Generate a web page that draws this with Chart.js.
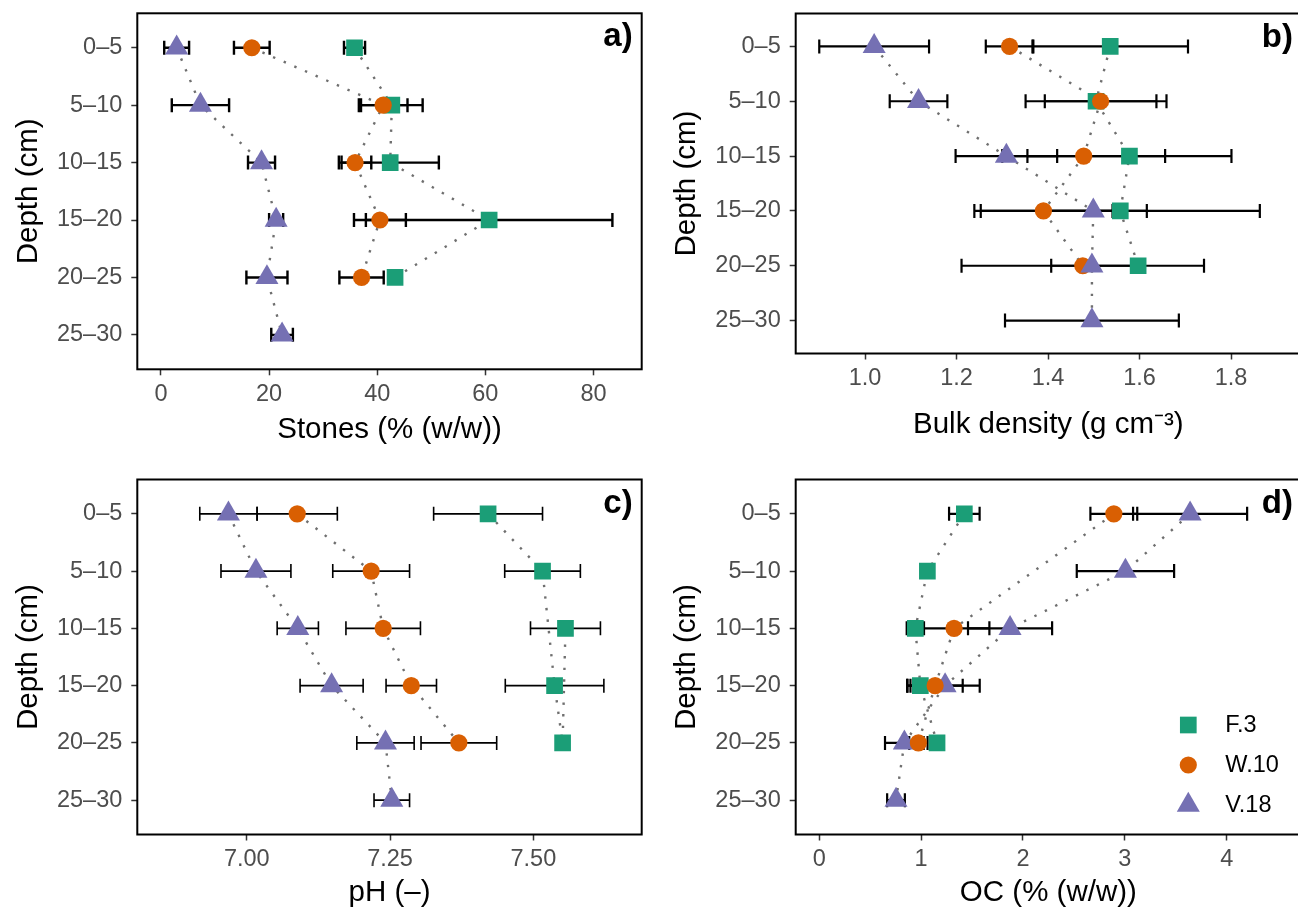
<!DOCTYPE html>
<html>
<head>
<meta charset="utf-8">
<script src="https://cdn.jsdelivr.net/npm/chart.js@4.4.1/dist/chart.umd.min.js"></script>
<style>
html, body { margin: 0; padding: 0; overflow: hidden; background: #fff; }
body { width: 1298px; height: 911px; position: relative; }
canvas { position: absolute; }
</style>
</head>
<body>
<canvas id="panelA" width="650" height="460" style="left:0;top:0"></canvas>
<canvas id="panelB" width="660" height="460" style="left:650px;top:0"></canvas>
<canvas id="panelC" width="650" height="451" style="left:0;top:460px"></canvas>
<canvas id="panelD" width="660" height="451" style="left:650px;top:460px"></canvas>
<script>
const depths = ['0–5', '5–10', '10–15', '15–20', '20–25', '25–30'];
const seriesNames = ['F.3', 'W.10', 'V.18'];
const seriesColors = ['#1B9E77', '#D95F02', '#7570B3'];

// a) stones (% w/w), mean and +/- error per depth
const stonesF3 = [35.8, 42.7, 42.4, 60.7, 43.3, null];
const stonesF3Err = [1.95, 5.7, 9.0, 22.8, 0, null];
const stonesW10 = [16.8, 41.1, 35.9, 40.5, 37.1, null];
const stonesW10Err = [3.3, 4.5, 3.0, 4.8, 4.1, null];
const stonesV18 = [2.9, 7.3, 18.6, 21.3, 19.6, 22.4];
const stonesV18Err = [2.3, 5.3, 2.5, 1.3, 3.8, 2.0];
const stonesTicks = [0, 20, 40, 60, 80];

// b) bulk density (g cm-3)
const bdF3 = [1.536, 1.505, 1.578, 1.558, 1.597, null];
const bdF3Err = [0.17, 0.154, 0.223, 0.305, 0, null];
const bdW10 = [1.316, 1.515, 1.478, 1.390, 1.476, null];
const bdW10Err = [0.052, 0.122, 0.178, 0.151, 0.265, null];
const bdV18 = [1.020, 1.117, 1.309, 1.499, 1.496, 1.496];
const bdV18Err = [0.12, 0.063, 0.111, 0.117, 0.089, 0.19];
const bdTicks = [1.0, 1.2, 1.4, 1.6, 1.8];

// c) pH
const phF3 = [7.421, 7.516, 7.556, 7.537, 7.551, null];
const phF3Err = [0.095, 0.066, 0.061, 0.086, 0, null];
const phW10 = [7.088, 7.217, 7.238, 7.287, 7.370, null];
const phW10Err = [0.07, 0.067, 0.065, 0.044, 0.066, null];
const phV18 = [6.968, 7.016, 7.089, 7.148, 7.242, 7.253];
const phV18Err = [0.05, 0.061, 0.036, 0.055, 0.05, 0.031];
const phF3PathOrder = [0, 1, 3, 4, 2];
const phTicks = [7.0, 7.25, 7.5];

// d) organic carbon (% w/w)
const ocF3 = [1.424, 1.061, 0.943, 0.992, 1.156, null];
const ocF3Err = [0.15, 0, 0.085, 0.13, 0, null];
const ocW10 = [2.892, null, 1.323, 1.137, 0.973, null];
const ocW10Err = [0.23, null, 0.347, 0.271, 0.09, null];
const ocV18 = [3.641, 3.006, 1.873, 1.235, 0.835, 0.753];
const ocV18Err = [0.56, 0.478, 0.413, 0.34, 0.19, 0.087];
const ocTicks = [0, 1, 2, 3, 4];

Chart.defaults.font.family = '"Liberation Sans", Arial, Helvetica, sans-serif';

const markerStyle = [
    { shape: 'rect', radius: 11.8 },
    { shape: 'circle', radius: 8.6 },
    { shape: 'triangle', radius: 13.3 }
];

function drawMarker(ctx, k, x, y) {
    const r = markerStyle[k].radius;
    ctx.fillStyle = seriesColors[k];
    ctx.beginPath();
    if (k === 0) {
        const h = r * Math.SQRT1_2;
        ctx.rect(x - h, y - h, 2 * h, 2 * h);
    } else if (k === 1) {
        ctx.arc(x, y, r, 0, Math.PI * 2);
    } else {
        ctx.moveTo(x, y - r);
        ctx.lineTo(x + r * Math.sin(2 * Math.PI / 3), y + r / 2);
        ctx.lineTo(x - r * Math.sin(2 * Math.PI / 3), y + r / 2);
        ctx.closePath();
    }
    ctx.fill();
}

const errorBarPlugin = {
    id: 'errbars',
    beforeDraw(chart) { chart.$errDone = false; },
    beforeDatasetDraw(chart, args, opts) {
        if (chart.$errDone || !chart.data.datasets[args.index].isMarker) return;
        chart.$errDone = true;
        const { ctx } = chart;
        const x = chart.scales.x, y = chart.scales.y;
        ctx.save();
        ctx.strokeStyle = '#000';
        ctx.lineWidth = opts.width;
        opts.series.forEach(s => {
            s.vals.forEach((v, i) => {
                const e = s.errs[i];
                if (v == null || !e) return;
                const py = y.getPixelForValue(i + 1);
                const x0 = x.getPixelForValue(v - e);
                const x1 = x.getPixelForValue(v + e);
                ctx.beginPath();
                ctx.moveTo(x0, py); ctx.lineTo(x1, py);
                ctx.moveTo(x0, py - opts.cap); ctx.lineTo(x0, py + opts.cap);
                ctx.moveTo(x1, py - opts.cap); ctx.lineTo(x1, py + opts.cap);
                ctx.stroke();
            });
        });
        ctx.restore();
    }
};

const framePlugin = {
    id: 'frame',
    afterDraw(chart, args, opts) {
        const { ctx, chartArea: a } = chart;
        ctx.save();
        ctx.strokeStyle = '#000';
        ctx.lineWidth = 2;
        ctx.strokeRect(a.left, a.top, a.right - a.left, a.bottom - a.top);
        ctx.fillStyle = '#000';
        ctx.font = 'bold 33px "Liberation Sans", Arial, sans-serif';
        ctx.textAlign = 'right';
        ctx.textBaseline = 'middle';
        ctx.fillText(opts.label, a.right - opts.labelInset, a.top + 24);
        if (opts.legend) {
            ctx.font = '23.5px "Liberation Sans", Arial, sans-serif';
            ctx.textAlign = 'left';
            seriesNames.forEach((name, k) => {
                const ly = a.bottom - 109.5 + k * 40;
                const lx = a.right - 112.7;
                drawMarker(ctx, k, lx, ly);
                ctx.fillStyle = '#000';
                ctx.fillText(name, lx + 37, ly + 1);
            });
        }
        ctx.restore();
    }
};

function toPoints(vals, order) {
    const idx = order || vals.map((_, i) => i);
    return idx.filter(i => vals[i] != null).map(i => ({ x: vals[i], y: i + 1 }));
}

function makePanel(p) {
    const datasets = [];
    p.series.forEach((s, k) => {
        datasets.push({
            data: toPoints(s.vals, s.path),
            showLine: true,
            borderColor: '#6f6f6f',
            borderWidth: 2.4,
            borderDash: [2.4, 9.2],
            pointRadius: 0,
            order: 10
        });
    });
    p.series.forEach((s, k) => {
        datasets.push({
            isMarker: true,
            data: toPoints(s.vals),
            showLine: false,
            pointStyle: markerStyle[k].shape,
            pointRadius: markerStyle[k].radius,
            backgroundColor: seriesColors[k],
            borderColor: seriesColors[k],
            borderWidth: 0,
            order: p.stack[k]
        });
    });
    const tickGrid = {
        display: true, drawOnChartArea: false, drawTicks: true,
        tickLength: 6, tickWidth: 1.5, tickColor: '#333333'
    };
    new Chart(document.getElementById(p.canvas), {
        type: 'scatter',
        data: { datasets },
        plugins: [errorBarPlugin, framePlugin],
        options: {
            responsive: false,
            animation: false,
            events: [],
            layout: { autoPadding: false, padding: { top: p.top, right: p.right, left: 0, bottom: 0 } },
            plugins: {
                legend: { display: false },
                tooltip: { enabled: false },
                errbars: {
                    width: p.barWidth, cap: 7,
                    series: p.series.map(s => ({ vals: s.vals, errs: s.errs }))
                },
                frame: { label: p.label, labelInset: p.labelInset, legend: !!p.legend }
            },
            scales: {
                x: {
                    type: 'linear',
                    min: p.xMin, max: p.xMax,
                    grid: tickGrid,
                    border: { display: false },
                    afterBuildTicks: s => { s.ticks = p.xTicks.map(v => ({ value: v })); },
                    afterFit: s => { s.height = p.xHeight; s.paddingLeft = 0; s.paddingRight = 0; },
                    ticks: {
                        color: '#4D4D4D', padding: 5,
                        font: { size: 23.5 },
                        maxRotation: 0, autoSkip: false,
                        callback: v => p.fmt(v)
                    },
                    title: {
                        display: true, text: p.xTitle, color: '#000',
                        font: { size: 29.5, lineHeight: 1 },
                        padding: { top: 0, bottom: p.xTitlePad }
                    }
                },
                y: {
                    type: 'linear',
                    reverse: true,
                    min: 0.4, max: 6.6,
                    grid: tickGrid,
                    border: { display: false },
                    afterBuildTicks: s => { s.ticks = depths.map((_, i) => ({ value: i + 1 })); },
                    afterFit: s => { s.width = p.yWidth; s.paddingTop = 0; s.paddingBottom = 0; },
                    ticks: {
                        color: '#4D4D4D', padding: 9,
                        font: { size: 23.5 },
                        autoSkip: false,
                        callback: v => depths[Math.round(v) - 1]
                    },
                    title: {
                        display: true, text: 'Depth (cm)', color: '#000',
                        font: { size: 29.5, lineHeight: 1 },
                        padding: { top: p.yTitlePad, bottom: 0 }
                    }
                }
            }
        }
    });
}

makePanel({
    canvas: 'panelA', label: 'a)', labelInset: 9,
    xTitle: 'Stones (% (w/w))', xMin: -4.38, xMax: 88.92, xTicks: stonesTicks,
    fmt: v => String(v),
    top: 13.3, right: 8.3, yWidth: 137.3, xHeight: 90.7,
    xTitlePad: 15.3, yTitlePad: 14, barWidth: 2.4,
    stack: [3, 1, 2],
    series: [
        { vals: stonesF3, errs: stonesF3Err },
        { vals: stonesW10, errs: stonesW10Err },
        { vals: stonesV18, errs: stonesV18Err }
    ]
});

makePanel({
    canvas: 'panelB', label: 'b)', labelInset: 8,
    xTitle: 'Bulk density (g cm⁻³)', xMin: 0.8485, xMax: 1.953, xTicks: bdTicks,
    fmt: v => v.toFixed(1),
    top: 13.5, right: 9, yWidth: 145.7, xHeight: 106.5,
    xTitlePad: 20.3, yTitlePad: 22.3, barWidth: 2.2,
    stack: [3, 2, 1],
    series: [
        { vals: bdF3, errs: bdF3Err },
        { vals: bdW10, errs: bdW10Err },
        { vals: bdV18, errs: bdV18Err }
    ]
});

makePanel({
    canvas: 'panelC', label: 'c)', labelInset: 9,
    xTitle: 'pH (–)', xMin: 6.809, xMax: 7.689, xTicks: phTicks,
    fmt: v => v.toFixed(2),
    top: 19.5, right: 8.3, yWidth: 137.3, xHeight: 76.5,
    xTitlePad: 3.3, yTitlePad: 14, barWidth: 1.6,
    stack: [3, 1, 2],
    series: [
        { vals: phF3, errs: phF3Err, path: phF3PathOrder },
        { vals: phW10, errs: phW10Err },
        { vals: phV18, errs: phV18Err }
    ]
});

makePanel({
    canvas: 'panelD', label: 'd)', labelInset: 8, legend: true,
    xTitle: 'OC (% (w/w))', xMin: -0.232, xMax: 4.73, xTicks: ocTicks,
    fmt: v => String(v),
    top: 19.5, right: 9, yWidth: 145.7, xHeight: 76.5,
    xTitlePad: 3.3, yTitlePad: 22.3, barWidth: 2.2,
    stack: [3, 1, 2],
    series: [
        { vals: ocF3, errs: ocF3Err },
        { vals: ocW10, errs: ocW10Err },
        { vals: ocV18, errs: ocV18Err }
    ]
});
</script>
</body>
</html>
